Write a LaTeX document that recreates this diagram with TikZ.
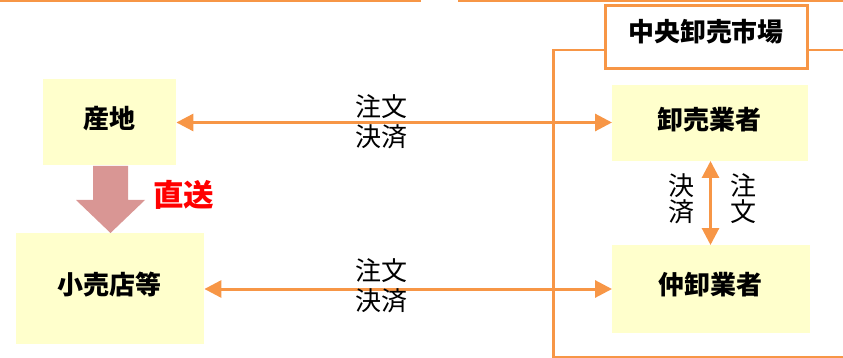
\documentclass[tikz,border=0pt]{standalone}
\usepackage{fontspec}
\setmainfont{Noto Sans CJK JP}
\usetikzlibrary{arrows.meta}
\definecolor{lineorange}{HTML}{F79646}
\definecolor{boxyellow}{HTML}{FFFFCC}
\definecolor{blockpink}{HTML}{D99694}
\tikzset{
  x=1pt,y=-1pt,
  yellowbox/.style={fill=boxyellow,draw=none,inner sep=0pt,anchor=north west},
  boxlabel/.style={font=\fontsize{26}{26}\selectfont\bfseries,inner sep=0pt},
  flow/.style={draw=lineorange,line width=3pt,{Triangle[length=17pt,width=17pt]}-{Triangle[length=17pt,width=17pt]}},
  rule/.style={draw=lineorange,line width=2.4pt},
  note/.style={font=\fontsize{26}{30}\selectfont,align=center,inner sep=0pt,text=black},
}
\begin{document}
\begin{tikzpicture}
\useasboundingbox (0,0) rectangle (843,358);
% top rules
\coordinate (ta) at (0,1); \coordinate (tb) at (421,1);
\coordinate (tc) at (458,1); \coordinate (td) at (843,1);
\draw[rule] (ta) -- (tb);
\draw[rule] (tc) -- (td);
% market outline
\coordinate (m1) at (605,50); \coordinate (m2) at (553.5,50);
\coordinate (m3) at (553.5,357); \coordinate (m4) at (843,357);
\coordinate (m5) at (808,50); \coordinate (m6) at (843,50);
\draw[rule] (m1) -- (m2) -- (m3) -- (m4);
\draw[rule] (m5) -- (m6);
% boxes
\node[draw=lineorange,line width=3.2pt,fill=white,minimum width=202pt,minimum height=63pt,inner sep=0pt,outer sep=0pt,anchor=north west] (market) at (605.5,5.5) {};
\node[font=\fontsize{25.9}{26}\selectfont\bfseries,inner sep=0pt] (marketlabel) at (706,32) {中央卸売市場};
\node[yellowbox,minimum width=133pt,minimum height=86pt] (origin) at (43,79) {};
\node[boxlabel] (originlabel) at (109.5,119) {産地};
\node[yellowbox,minimum width=188pt,minimum height=111pt] (retail) at (16,233) {};
\node[boxlabel] (retaillabel) at (109.5,285) {小売店等};
\node[yellowbox,minimum width=196pt,minimum height=76pt] (whole) at (612,85) {};
\node[boxlabel] (wholelabel) at (709.5,120) {卸売業者};
\node[yellowbox,minimum width=198pt,minimum height=88pt] (broker) at (612,245) {};
\node[boxlabel] (brokerlabel) at (710.5,285) {仲卸業者};
% connectors
\coordinate (oe) at (origin.east |- 0,122.5);
\coordinate (we) at (whole.west |- 0,122.5);
\coordinate (re) at (retail.east |- 0,289);
\coordinate (be) at (broker.west |- 0,289);
\draw[flow] (oe) -- (we);
\draw[flow] (re) -- (be);
\coordinate (wb) at (710.5,161);
\coordinate (bt) at (710.5,245);
\draw[flow] (wb) -- (bt);
% block arrow
\fill[blockpink] (93,166) -- (128,166) -- (128,200) -- (145,200) -- (110.5,233) -- (76,200) -- (93,200) -- cycle;
\node[font=\fontsize{30.5}{31}\selectfont\bfseries,text=red,inner sep=0pt] (direct) at (183.5,195) {直送};
% labels
\node[note] (n1) at (381,122) {注文\\決済};
\node[note] (n2) at (381,286) {注文\\決済};
\node[note,font=\fontsize{26}{26}\selectfont] (n3) at (681,199) {決\\済};
\node[note,font=\fontsize{26}{26}\selectfont] (n4) at (743,199) {注\\文};
\end{tikzpicture}
\end{document}
